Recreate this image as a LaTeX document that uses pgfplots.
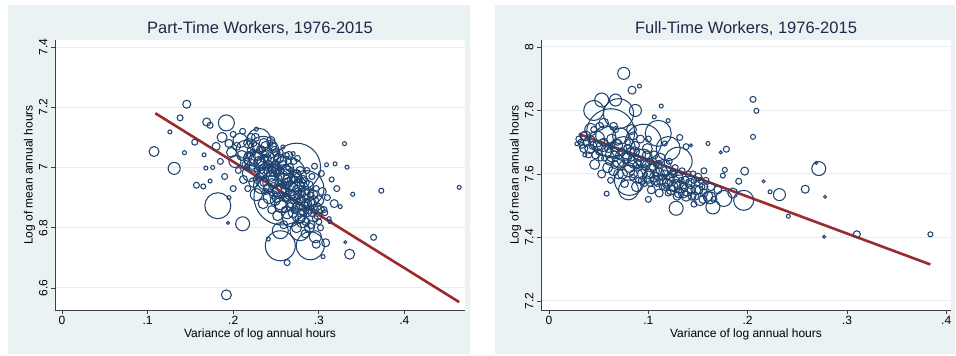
\documentclass[border=0pt]{standalone}
\usepackage{fontspec}
\setmainfont{Liberation Sans}
\usepackage{pgfplots}
\usepackage{pgfplotstable}
\pgfplotsset{compat=1.18}

\definecolor{panelbg}{HTML}{EAF2F4}
\definecolor{gridc}{HTML}{E6EFF1}
\definecolor{bubble}{HTML}{1F4470}
\definecolor{fitred}{HTML}{9B2B2E}
\definecolor{titlec}{HTML}{1C2A48}
\definecolor{axisc}{HTML}{3A3F48}

% part-time workers: variance of log hours, log mean hours, bubble radius (pt)
\pgfplotstableread{
x y r
0.1075 7.053 5
0.1457 7.210 4
0.138 7.165 3
0.126 7.118 2
0.131 6.997 6
0.143 7.049 2
0.155 7.084 3
0.166 7.042 2
0.168 6.998 2
0.169 7.151 4
0.173 7.140 3
0.192 7.148 8
0.227 7.127 2
0.244 7.090 4
0.258 7.068 2
0.270 7.046 2
0.295 7.004 3
0.309 7.009 2
0.319 7.012 2
0.333 7.001 2
0.330 7.079 2
0.303 6.980 3
0.315 6.960 2.5
0.157 6.941 3
0.165 6.937 2.5
0.173 6.955 2
0.182 6.873 13
0.211 6.813 7
0.194 6.816 1.5
0.192 6.577 5
0.255 6.740 15
0.290 6.740 14
0.263 6.684 3
0.336 6.712 5
0.331 6.752 1.5
0.305 6.704 2
0.297 6.745 4
0.241 6.762 2
0.278 6.790 10
0.255 6.790 8
0.364 6.768 3
0.373 6.923 2.5
0.464 6.934 2
0.3396 6.911 2
0.307 6.850 3
0.313 6.820 2
0.318 6.880 4
0.321 6.930 3
0.325 6.870 2
0.180 7.070 4
0.185 7.020 3
0.187 7.100 5
0.190 6.970 3
0.176 7.000 2
0.200 6.930 3
0.195 6.900 2
0.257 6.902 28
0.274 7.001 24
0.235 7.050 16
0.285 6.930 18
0.262 6.970 20
0.195 7.080 4
0.198 7.050 5
0.200 7.110 3
0.202 7.020 6
0.204 7.070 4
0.206 6.990 3
0.208 7.090 7
0.210 7.040 5
0.211 7.120 3
0.212 6.960 4
0.214 7.060 9
0.215 7.010 4
0.217 6.930 3
0.218 7.080 5
0.219 7.030 6
0.220 6.980 8
0.221 7.100 4
0.223 7.050 3
0.224 6.950 5
0.225 7.020 10
0.226 7.070 4
0.227 6.910 6
0.228 6.990 3
0.229 7.040 5
0.230 7.090 12
0.231 6.970 4
0.232 7.010 6
0.233 6.940 8
0.234 7.060 3
0.235 6.880 5
0.236 7.030 4
0.237 6.990 7
0.238 6.920 3
0.239 7.050 5
0.240 6.960 11
0.241 7.010 4
0.242 6.900 6
0.243 7.080 3
0.244 6.970 5
0.245 6.860 4
0.246 7.030 8
0.247 6.940 3
0.248 6.990 6
0.249 6.890 5
0.250 7.050 4
0.251 6.950 14
0.252 6.840 5
0.253 7.000 3
0.254 6.920 7
0.255 6.970 4
0.256 6.870 6
0.257 7.020 5
0.258 6.940 3
0.259 6.810 4
0.260 6.980 9
0.261 6.900 4
0.262 7.040 3
0.263 6.850 6
0.264 6.950 5
0.265 6.920 3
0.266 7.000 4
0.267 6.830 8
0.268 6.960 4
0.269 6.880 5
0.270 6.930 12
0.271 7.020 3
0.272 6.860 4
0.273 6.970 6
0.274 6.800 5
0.275 6.910 4
0.276 6.950 3
0.277 6.840 7
0.278 6.990 4
0.279 6.890 5
0.280 6.930 3
0.281 6.820 6
0.282 6.960 4
0.283 6.870 5
0.284 6.780 4
0.285 6.910 8
0.286 6.990 3
0.287 6.850 4
0.288 6.940 5
0.290 6.880 6
0.291 6.810 4
0.292 6.970 3
0.293 6.910 5
0.295 6.860 4
0.296 6.770 6
0.297 6.930 3
0.299 6.840 4
0.300 6.890 5
0.302 6.800 3
0.304 6.920 4
0.306 6.860 3
0.308 6.750 4
0.310 6.900 3
0.312 6.830 2
0.216 7.000 3
0.218 7.040 4
0.222 7.010 5
0.224 7.080 3
0.226 7.030 6
0.228 6.960 4
0.230 7.020 5
0.232 7.060 4
0.233 6.990 3
0.235 7.020 6
0.236 6.950 4
0.238 7.070 5
0.239 7.000 3
0.240 7.030 4
0.241 6.930 5
0.243 6.990 6
0.244 7.040 3
0.245 6.950 4
0.246 7.000 5
0.247 6.910 4
0.248 7.060 3
0.249 6.960 7
0.250 7.010 4
0.251 6.900 5
0.252 6.980 3
0.253 7.030 5
0.254 6.950 4
0.255 6.880 6
0.256 6.990 3
0.257 6.930 5
0.258 7.010 4
0.259 6.960 6
0.260 6.860 3
0.261 6.940 4
0.262 6.990 5
0.263 6.900 4
0.264 7.020 3
0.265 6.960 6
0.266 6.870 4
0.267 6.940 5
0.268 6.990 3
0.269 6.910 4
0.270 6.850 5
0.271 6.960 4
0.272 6.900 6
0.273 6.930 3
0.274 6.980 4
0.275 6.870 5
0.276 6.920 4
0.277 6.960 3
0.278 6.830 5
0.279 6.940 4
0.280 6.880 6
0.281 6.910 3
0.282 6.850 4
0.283 6.950 5
0.284 6.900 3
0.285 6.820 4
0.286 6.880 5
0.287 6.920 3
0.288 6.860 4
0.289 6.800 5
0.290 6.910 3
0.292 6.850 4
0.294 6.890 5
0.296 6.830 3
0.298 6.870 4
0.300 6.820 3
0.302 6.860 4
0.226 7.100 4
0.236 7.080 5
0.246 7.070 4
0.255 7.050 3
0.265 7.040 4
0.275 7.030 3
}\parttime

% full-time workers
\pgfplotstableread{
x y r
0.0752 7.917 6
0.0836 7.864 4
0.091 7.877 2
0.053 7.833 7
0.067 7.833 6
0.087 7.800 6
0.113 7.814 2
0.106 7.780 2
0.120 7.768 2
0.1165 7.696 2.5
0.110 7.728 13
0.1316 7.715 3
0.138 7.686 3
0.143 7.690 1.5
0.160 7.696 2
0.1786 7.678 3
0.173 7.668 1.5
0.2054 7.835 3
0.2088 7.799 2.5
0.2054 7.717 2.5
0.2716 7.617 7
0.269 7.635 1.5
0.197 7.609 4
0.177 7.613 2.5
0.175 7.595 2.5
0.191 7.577 3
0.216 7.577 1.5
0.2226 7.544 2
0.232 7.535 6
0.258 7.552 4
0.278 7.528 1.5
0.241 7.467 2
0.277 7.402 1.5
0.310 7.410 3.5
0.384 7.410 2.5
0.196 7.517 10
0.176 7.523 8
0.162 7.525 6
0.165 7.496 7
0.156 7.610 3
0.128 7.492 7
0.146 7.505 3
0.058 7.538 2.5
0.080 7.550 10
0.081 7.580 15
0.036 7.660 2
0.185 7.540 5
0.100 7.520 3
0.028 7.695 2
0.030 7.710 3
0.062 7.730 24
0.070 7.790 15
0.095 7.700 18
0.130 7.640 14
0.045 7.800 10
0.120 7.680 12
0.032 7.700 3
0.035 7.680 4
0.037 7.720 5
0.040 7.660 3
0.042 7.740 6
0.044 7.690 4
0.046 7.630 5
0.048 7.710 8
0.050 7.670 3
0.051 7.750 4
0.053 7.600 4
0.054 7.690 6
0.056 7.650 3
0.057 7.720 10
0.059 7.620 5
0.060 7.680 4
0.062 7.580 3
0.063 7.710 5
0.064 7.660 7
0.066 7.630 4
0.067 7.740 3
0.068 7.690 6
0.070 7.600 5
0.071 7.660 4
0.072 7.720 8
0.074 7.630 3
0.075 7.680 12
0.076 7.570 4
0.078 7.650 5
0.079 7.700 3
0.080 7.610 6
0.082 7.670 4
0.083 7.740 5
0.084 7.590 3
0.086 7.640 7
0.087 7.690 4
0.088 7.560 5
0.090 7.620 3
0.091 7.660 6
0.092 7.710 4
0.094 7.600 5
0.095 7.650 9
0.096 7.570 3
0.098 7.630 4
0.099 7.680 5
0.100 7.590 6
0.102 7.640 3
0.103 7.550 4
0.104 7.610 7
0.106 7.660 4
0.107 7.580 5
0.108 7.630 3
0.110 7.600 6
0.111 7.540 4
0.112 7.650 5
0.114 7.590 3
0.115 7.620 8
0.117 7.560 4
0.118 7.610 5
0.120 7.580 6
0.121 7.640 3
0.123 7.550 5
0.124 7.600 4
0.126 7.570 7
0.127 7.620 3
0.129 7.530 4
0.130 7.590 5
0.132 7.560 6
0.134 7.610 3
0.135 7.540 5
0.137 7.580 4
0.139 7.550 6
0.140 7.600 3
0.142 7.570 5
0.144 7.530 4
0.146 7.580 3
0.148 7.550 5
0.150 7.590 4
0.152 7.520 6
0.154 7.560 3
0.156 7.540 4
0.158 7.580 3
0.160 7.530 5
0.163 7.560 4
0.166 7.520 3
0.170 7.550 4
0.033 7.690 3
0.038 7.700 4
0.041 7.680 5
0.043 7.710 3
0.047 7.660 4
0.049 7.690 5
0.052 7.650 3
0.055 7.700 4
0.058 7.670 5
0.061 7.640 4
0.063 7.690 3
0.065 7.610 5
0.066 7.660 4
0.069 7.700 3
0.070 7.640 6
0.073 7.670 4
0.074 7.600 5
0.077 7.640 3
0.079 7.680 4
0.081 7.620 5
0.083 7.650 3
0.085 7.600 4
0.086 7.670 5
0.089 7.630 4
0.090 7.580 3
0.093 7.640 5
0.094 7.580 4
0.097 7.620 3
0.098 7.660 4
0.101 7.600 5
0.102 7.570 3
0.105 7.620 4
0.106 7.590 5
0.109 7.570 3
0.110 7.630 4
0.113 7.580 5
0.114 7.560 3
0.116 7.600 4
0.119 7.570 5
0.120 7.540 3
0.122 7.590 4
0.125 7.560 5
0.126 7.600 3
0.128 7.570 4
0.131 7.540 5
0.133 7.580 3
0.136 7.560 4
0.138 7.530 5
0.141 7.570 3
0.143 7.550 4
0.145 7.600 3
0.147 7.530 4
0.149 7.570 3
0.151 7.550 4
0.153 7.580 3
0.155 7.520 4
0.157 7.560 3
0.035 7.720 4
0.045 7.740 3
0.055 7.760 5
0.065 7.750 4
0.085 7.720 4
0.100 7.710 3
}\fulltime

\pgfplotsset{
  panel/.style={
    scale only axis, width=410pt, height=270pt,
    anchor=south west,
    axis x line*=bottom, axis y line*=left,
    axis line style={axisc, line width=0.8pt, -},
    tick style={axisc, line width=0.8pt},
    tick align=outside, major tick length=4pt,
    axis background/.style={fill=white},
    ymajorgrids, grid style={gridc, line width=1pt},
    xtick={0,0.1,0.2,0.3,0.4},
    xticklabels={0,.1,.2,.3,.4},
    tick label style={font=\fontsize{12}{13}\selectfont, black},
    xticklabel style={yshift=1pt},
    yticklabel style={rotate=90, anchor=south, yshift=0pt},
    label style={font=\fontsize{12}{13}\selectfont, black},
    xlabel={Variance of log annual hours},
    ylabel={Log of mean annual hours},
    xlabel style={yshift=3pt},
    ylabel style={yshift=-3pt},
    title style={font=\fontsize{16.5}{18}\selectfont, text=titlec, yshift=-5pt},
    clip=true,
  },
  bubbles/.style={
    scatter, only marks, mark=o,
    scatter src=explicit,
    scatter/use mapped color={draw=bubble, fill=none},
    mark options={line width=1.05pt},
    visualization depends on={\thisrow{r} \as \rad},
    scatter/@pre marker code/.append style={/tikz/mark size=\rad pt},
  },
  fit/.style={fitred, line width=2.6pt, no marks},
}

\begin{document}
\begin{tikzpicture}
\path[use as bounding box] (0,0) rectangle (956pt,356pt);
\fill[panelbg] (8pt,2pt) rectangle (470pt,351pt);
\fill[panelbg] (495pt,2pt) rectangle (955pt,351pt);

\begin{axis}[panel, at={(55pt,46pt)},
  title={Part-Time Workers, 1976-2015},
  xmin=-0.0082, xmax=0.4708, ymin=6.5267, ymax=7.4233,
  ytick={6.6,6.8,7,7.2,7.4},
  yticklabels={6.6,6.8,7,7.2,7.4}]
  \addplot[bubbles] table[x=x, y=y, meta=r] {\parttime};
  \addplot[fit] coordinates {(0.109,7.180) (0.464,6.553)};
\end{axis}

\begin{axis}[panel, at={(541pt,46pt)},
  title={Full-Time Workers, 1976-2015},
  xmin=-0.0081, xmax=0.4048, ymin=7.1716, ymax=8.022,
  ytick={7.2,7.4,7.6,7.8,8},
  yticklabels={7.2,7.4,7.6,7.8,8}]
  \addplot[bubbles] table[x=x, y=y, meta=r] {\fulltime};
  \addplot[fit] coordinates {(0.030,7.726) (0.384,7.315)};
\end{axis}
\end{tikzpicture}
\end{document}
